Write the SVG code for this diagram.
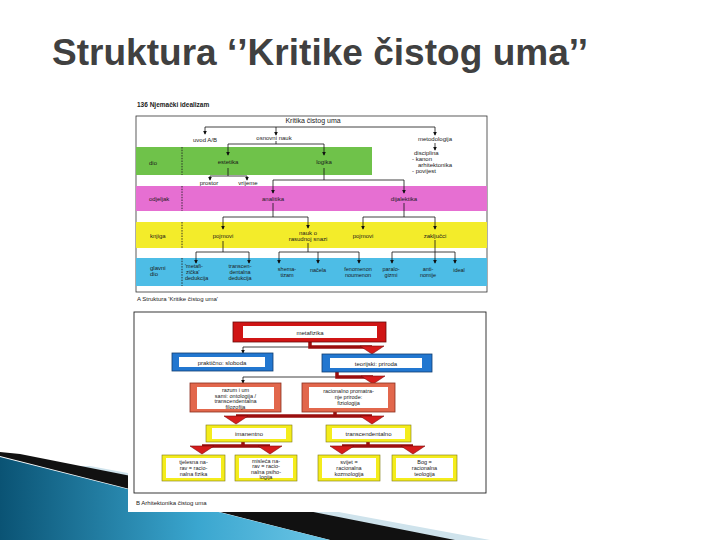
<svg xmlns="http://www.w3.org/2000/svg" xmlns:xlink="http://www.w3.org/1999/xlink" width="720" height="540" viewBox="0 0 720 540">
<defs>
<style>
.t{font-family:"Liberation Sans",Arial,sans-serif;fill:#1a1a1a}
.s{font-size:6px}
.xs{font-size:5.5px}
.c{text-anchor:middle}
.ln{stroke:#111;stroke-width:0.8;fill:none}
.ar{stroke:#111;stroke-width:0.8;fill:none;marker-end:url(#ah)}
.bar{stroke:#9a0e0e;stroke-width:3.5;fill:none}
.dash{stroke:#222;stroke-width:0.9;stroke-dasharray:1.5,1.2}
.red{fill:#d01515;stroke:#6a0a0a;stroke-width:0.8}
.blu{fill:#2277d0;stroke:#103e70;stroke-width:0.8}
.sal{fill:#e2674c;stroke:#8a3020;stroke-width:0.8}
.yel{fill:#f4ec1c;stroke:#7e7810;stroke-width:0.6}
.in{fill:#fff}
</style>
<marker id="ah" viewBox="0 0 6 6" refX="5" refY="3" markerWidth="4" markerHeight="4" markerUnits="userSpaceOnUse" orient="auto"><path d="M0,0 L6,3 L0,6z" fill="#111"/></marker>
<path id="rh" d="M-12,0 L12,0 L0,8z" fill="#d61c1c" stroke="#7a0808" stroke-width="0.6"/>
<linearGradient id="bg" x1="0" y1="0" x2="1" y2="0">
<stop offset="0" stop-color="#0a5374"/>
<stop offset="0.6" stop-color="#3aa6cf"/>
<stop offset="1" stop-color="#6cc6e6"/>
</linearGradient>
</defs>
<rect width="720" height="540" fill="#fff"/>
<g id="decor">
<polygon points="90,466 490,540 430,540 60,466" fill="#cfe3ec"/>
<polygon points="20,454 455,540 330,540 0,456 0,452" fill="#111"/>
<polygon points="0,457 330,540 0,540" fill="url(#bg)"/>
</g>
<text class="t" x="52" y="65" textLength="536" style="font-size:37px;font-weight:bold;fill:#404040">Struktura ‘’Kritike čistog uma’’</text>
<rect x="128" y="96" width="362" height="416" fill="#fff"/>
<g id="partA">
<text class="t" x="137" y="107" style="font-size:6.5px;font-weight:bold">136  Njemački idealizam</text>
<rect x="136" y="116" width="351" height="176" fill="none" stroke="#333" stroke-width="0.8"/>
<rect id="band-dio" x="136" y="147" width="236" height="28" fill="#6fc24a"/>
<rect id="band-odjeljak" x="136" y="186" width="351" height="25" fill="#e66fd2"/>
<rect id="band-knjiga" x="136" y="222" width="351" height="26" fill="#f3ec2a"/>
<rect id="band-glavni" x="136" y="258" width="351" height="28" fill="#4dbde6"/>
<line class="dash" x1="182" y1="147" x2="182" y2="175"/>
<line class="dash" x1="182" y1="186" x2="182" y2="211"/>
<line class="dash" x1="182" y1="222" x2="182" y2="248"/>
<line class="dash" x1="182" y1="258" x2="182" y2="286"/>
<text class="t s" x="149" y="165">dio</text>
<text class="t s" x="149" y="201">odjeljak</text>
<text class="t s" x="150" y="238">knjiga</text>
<text class="t s" x="150" y="270">glavni</text>
<text class="t s" x="150" y="276">dio</text>
</g>
<g id="connectorsA">
<path class="ln" d="M205,127 H435"/>
<path class="ar" d="M205,127 V134"/>
<path class="ar" d="M276,127 V135"/>
<path class="ar" d="M435,127 V135"/>
<path class="ln" d="M276,141 V144"/>
<path class="ar" d="M228,144 V155"/>
<path class="ar" d="M324,144 V155"/>
<path class="ln" d="M228,144 H324"/>
<path class="ar" d="M435,143 V150"/>
<path class="ln" d="M228,168 V176 M210,176 H247"/>
<path class="ar" d="M210,176 V180"/>
<path class="ar" d="M247,176 V180"/>
<path class="ln" d="M324,168 V180 H273 M324,180 H404"/>
<path class="ar" d="M273,180 V193"/>
<path class="ar" d="M404,180 V193"/>
<path class="ln" d="M273,203 V217 H223 M273,217 H308 M404,203 V217 H363 M404,217 H435"/>
<path class="ar" d="M223,217 V229"/>
<path class="ar" d="M308,217 V228"/>
<path class="ar" d="M363,217 V229"/>
<path class="ar" d="M435,217 V229"/>
<path class="ln" d="M223,241 V252 H196 M223,252 H249 M308,243 V252 H279 M308,252 H359 M435,240 V252 H392 M435,252 H455"/>
<path class="ar" d="M196,252 V263"/>
<path class="ar" d="M249,252 V263"/>
<path class="ar" d="M279,252 V263"/>
<path class="ar" d="M318,252 V263"/>
<path class="ar" d="M359,252 V263"/>
<path class="ar" d="M392,252 V263"/>
<path class="ar" d="M435,252 V263"/>
<path class="ar" d="M455,252 V263"/>
</g>
<g id="nodesA">
<g id="kritika"><text class="t c" x="313" y="123" style="font-size:7px">Kritika čistog uma</text></g>
<g id="uvod"><text class="t s c" x="205" y="142">uvod A/B</text></g>
<g id="osnovni"><text class="t s c" x="274" y="140">osnovni nauk</text></g>
<g id="metodologija"><text class="t s c" x="435" y="141">metodologija</text></g>
<g id="disciplina">
<text class="t s" x="414" y="155">disciplina</text>
<text class="t s" x="412" y="161">- kanon</text>
<text class="t s" x="418" y="167">arhitektonika</text>
<text class="t s" x="412" y="173">- povijest</text>
</g>
<g id="estetika"><text class="t s c" x="228" y="164">estetika</text></g>
<g id="logika"><text class="t s c" x="324" y="164">logika</text></g>
<g id="prostor"><text class="t s c" x="209" y="185">prostor</text></g>
<g id="vrijeme"><text class="t s c" x="248" y="185">vrijeme</text></g>
<g id="analitika"><text class="t s c" x="273" y="201">analitika</text></g>
<g id="dijalektika"><text class="t s c" x="404" y="201">dijalektika</text></g>
<g id="pojmovi1"><text class="t s c" x="223" y="238">pojmovi</text></g>
<g id="nauk"><text class="t s c" x="308" y="235">nauk o</text><text class="t s c" x="308" y="241">rasudnoj snazi</text></g>
<g id="pojmovi2"><text class="t s c" x="363" y="238">pojmovi</text></g>
<g id="zakljucci"><text class="t s c" x="435" y="238">zaključci</text></g>
<g id="metafdeduk"><text class="t xs" x="185" y="268">'metafi-</text><text class="t xs" x="186" y="274">zička'</text><text class="t xs" x="185" y="280">dedukcija</text></g>
<g id="transdeduk"><text class="t xs c" x="240" y="268">transcen-</text><text class="t xs c" x="240" y="274">dentalna</text><text class="t xs c" x="240" y="280">dedukcija</text></g>
<g id="shematizam"><text class="t xs c" x="287" y="271">shema-</text><text class="t xs c" x="287" y="277">tizam</text></g>
<g id="nacela"><text class="t xs c" x="318" y="272">načela</text></g>
<g id="fenomenon"><text class="t xs c" x="358" y="271">fenomenon</text><text class="t xs c" x="358" y="277">noumenon</text></g>
<g id="paralogizmi"><text class="t xs c" x="391" y="271">paralo-</text><text class="t xs c" x="391" y="277">gizmi</text></g>
<g id="antinomije"><text class="t xs c" x="428" y="271">anti-</text><text class="t xs c" x="428" y="277">nomije</text></g>
<g id="ideal"><text class="t xs c" x="459" y="272">ideal</text></g>
<text class="t s" x="137" y="301">A  Struktura 'Kritike čistog uma'</text>
</g>
<g id="partB">
<rect x="134" y="312" width="352" height="181" fill="none" stroke="#222" stroke-width="0.9"/>
<text class="t s" x="136" y="505">B  Arhitektonika čistog uma</text>
</g>
<g id="connectorsB">
<path class="ln" d="M310,347 H243"/>
<path class="ar" d="M243,347 V353"/>
<path class="bar" d="M310,342 V347 H372"/>
<use xlink:href="#rh" x="372" y="346"/>
<path class="ln" d="M337,377 H243"/>
<path class="ar" d="M243,377 V383"/>
<path class="bar" d="M337,372 V377 H373"/>
<use xlink:href="#rh" x="373" y="376"/>
<path class="bar" d="M335,412 V416 M236,416 H372"/>
<use xlink:href="#rh" x="236" y="416"/>
<use xlink:href="#rh" x="372" y="416"/>
<path class="bar" d="M243,442 V446 M202,446 H270"/>
<use xlink:href="#rh" x="202" y="446"/>
<use xlink:href="#rh" x="270" y="446"/>
<path class="bar" d="M368,442 V446 M342,446 H413"/>
<use xlink:href="#rh" x="342" y="446"/>
<use xlink:href="#rh" x="413" y="446"/>
</g>
<g id="metafizika"><rect class="red" x="233" y="322" width="153" height="20"/><rect class="in" x="243" y="326" width="134" height="12"/><text class="t s c" x="310" y="334.5">metafizika</text></g>
<g id="prakticno"><rect class="blu" x="172" y="353" width="101" height="18"/><rect class="in" x="179" y="357" width="86" height="10"/><text class="t s c" x="222" y="364.5">praktično: sloboda</text></g>
<g id="teorijski"><rect class="blu" x="322" y="354" width="110" height="18"/><rect class="in" x="330" y="358" width="92" height="10"/><text class="t s c" x="376" y="365.5">teorijski: priroda</text></g>
<g id="ontologija"><rect class="sal" x="190" y="383" width="91" height="29"/><rect class="in" x="197" y="387" width="77" height="22"/>
<text class="t xs c" x="235.5" y="392">razum i um</text><text class="t xs c" x="235.5" y="397.5">sami: ontologija /</text><text class="t xs c" x="235.5" y="403">transcendentalna</text><text class="t xs c" x="235.5" y="408.5">filozofija</text></g>
<g id="fiziologija"><rect class="sal" x="302" y="383" width="93" height="29"/><rect class="in" x="309" y="387" width="79" height="21"/>
<text class="t xs c" x="348.5" y="393">racionalno promatra-</text><text class="t xs c" x="348.5" y="399">nje prirode:</text><text class="t xs c" x="348.5" y="405">fiziologija</text></g>
<g id="imanentno"><rect class="yel" x="206" y="425" width="86" height="17"/><rect class="in" x="212" y="428" width="74" height="11"/><text class="t s c" x="249" y="436">imanentno</text></g>
<g id="transcendentalno"><rect class="yel" x="326" y="425" width="85" height="17"/><rect class="in" x="332" y="428" width="73" height="11"/><text class="t s c" x="368.5" y="436">transcendentalno</text></g>
<g id="fizika"><rect class="yel" x="162" y="455" width="63" height="26"/><rect class="in" x="166" y="458" width="55" height="20"/>
<text class="t xs c" x="193.5" y="464">tjelesna na-</text><text class="t xs c" x="193.5" y="470">rav = racio-</text><text class="t xs c" x="193.5" y="476">nalna fizika</text></g>
<g id="psihologija"><rect class="yel" x="235" y="455" width="62" height="26"/><rect class="in" x="239" y="458" width="54" height="20"/>
<text class="t xs c" x="266" y="462.5">misleća na-</text><text class="t xs c" x="266" y="468">rav = racio-</text><text class="t xs c" x="266" y="473.5">nalna psiho-</text><text class="t xs c" x="266" y="479">logija</text></g>
<g id="kozmologija"><rect class="yel" x="318" y="455" width="62" height="26"/><rect class="in" x="322" y="458" width="54" height="20"/>
<text class="t xs c" x="349" y="464">svijet =</text><text class="t xs c" x="349" y="470">racionalna</text><text class="t xs c" x="349" y="476">kozmologija</text></g>
<g id="teologija"><rect class="yel" x="392" y="455" width="65" height="26"/><rect class="in" x="396" y="458" width="57" height="20"/>
<text class="t xs c" x="424.5" y="464">Bog =</text><text class="t xs c" x="424.5" y="470">racionalna</text><text class="t xs c" x="424.5" y="476">teologija</text></g>
</svg>
